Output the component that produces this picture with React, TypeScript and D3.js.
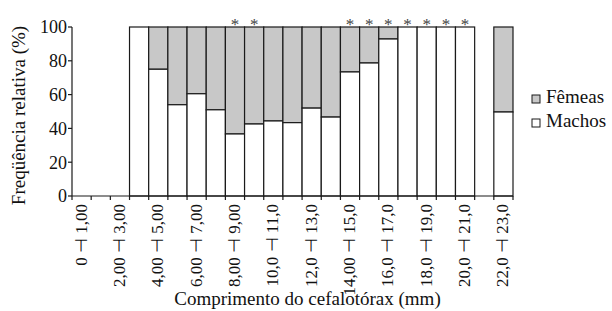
import React from 'react'
import * as d3 from 'd3'

// classes de comprimento (mm), 0-1 ... 22-23
const classes = d3.range(0, 23).map((d) => String(d))
const machos = [null, null, null, 100, 75, 54, 60.5, 51, 36.7, 42.6, 44.4, 43.4, 52, 46.7, 73.4, 78.7, 92.9, 100, 100, 100, 100, null, 49.7]
const asteriscos = ['8', '9', '14', '15', '16', '17', '18', '19', '20']
const tickLabels = [
  '0 ⊣ 1,00', '2,00 ⊣ 3,00', '4,00 ⊣ 5,00', '6,00 ⊣ 7,00', '8,00 ⊣ 9,00', '10,0 ⊣ 11,0',
  '12,0 ⊣ 13,0', '14,00 ⊣ 15,0', '16,0 ⊣ 17,0', '18,0 ⊣ 19,0', '20,0 ⊣ 21,0', '22,0 ⊣ 23,0',
]
const yTicks = [0, 20, 40, 60, 80, 100]

const font = "'Liberation Serif'"
const stroke = '#1a1a1a'
const grey = '#c8c8c8'

const App = () => {
  const margins = { top: 27, left: 72, right: 99, bottom: 115 }
  const width = 612
  const height = 311
  const innerW = width - margins.left - margins.right
  const innerH = height - margins.top - margins.bottom

  const xScale = d3.scaleBand().domain(classes).range([0, innerW]).padding(0)
  const yScale = d3.scaleLinear().domain([0, 100]).range([innerH, 0])
  const bw = xScale.bandwidth()
  const txt = { fontFamily: font }

  return (
    <svg width={width} height={height} style={{ position: 'absolute', left: 0, top: 0 }}>
      <g transform={`translate(${margins.left}, ${margins.top})`}>
        {classes.map((c, i) => {
          const m = machos[i]
          if (m == null) return null
          const x = xScale(c) as number
          return (
            <g key={c}>
              <rect x={x} y={yScale(100)} width={bw} height={yScale(m) - yScale(100)} fill={grey} stroke={stroke} strokeWidth={1.2} />
              <rect x={x} y={yScale(m)} width={bw} height={yScale(0) - yScale(m)} fill='#fff' stroke={stroke} strokeWidth={1.2} />
            </g>
          )
        })}
        {asteriscos.map((c) => (
          <text key={c} style={txt} x={(xScale(c) as number) + bw / 2} y={yScale(100) + 3} textAnchor='middle' fontSize={17} fill='#444'>*</text>
        ))}
        {/* eixo y */}
        <line x1={0} x2={0} y1={yScale(100)} y2={yScale(0)} stroke={stroke} strokeWidth={1.2} />
        {yTicks.map((t) => (
          <g key={t} transform={`translate(0, ${yScale(t)})`}>
            <line x1={-4} x2={0} stroke={stroke} strokeWidth={1.2} />
            <text style={txt} x={-5} dy='0.35em' textAnchor='end' fontSize={18} fill='#111'>{t}</text>
          </g>
        ))}
        {/* eixo x */}
        <line x1={0} x2={innerW} y1={innerH} y2={innerH} stroke={stroke} strokeWidth={1.2} />
        {d3.range(0, classes.length + 1).map((i) => (
          <line key={i} x1={i * bw} x2={i * bw} y1={innerH} y2={innerH + 4} stroke={stroke} strokeWidth={1.2} />
        ))}
        {tickLabels.map((t, i) => {
          const x = (xScale(classes[i * 2]) as number) + bw / 2 - 1
          return (
            <text key={t} style={txt} transform={`translate(${x}, ${innerH + 8}) rotate(-90)`} textAnchor='end' dy='0.35em' fontSize={17} fill='#111'>{t}</text>
          )
        })}
        <text style={txt} x={innerW / 2 + 15} y={innerH + 109} textAnchor='middle' fontSize={19} fill='#111'>Comprimento do cefalotórax (mm)</text>
        <text style={txt} transform={`translate(-47, ${innerH / 2 + 4}) rotate(-90)`} textAnchor='middle' fontSize={19} fill='#111'>Freqüência relativa (%)</text>
      </g>
      {/* legenda */}
      <g transform='translate(532, 95)'>
        <rect x={0} y={0} width={8} height={8} fill={grey} stroke={stroke} strokeWidth={1} />
        <text style={txt} x={14} y={8} fontSize={19} fill='#111'>Fêmeas</text>
        <rect x={0} y={24} width={8} height={8} fill='#fff' stroke={stroke} strokeWidth={1} />
        <text style={txt} x={14} y={32} fontSize={19} fill='#111'>Machos</text>
      </g>
    </svg>
  )
}

export default App
